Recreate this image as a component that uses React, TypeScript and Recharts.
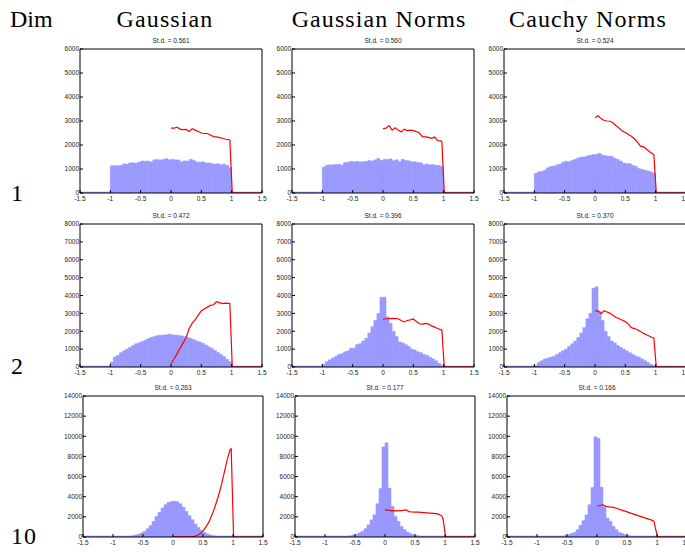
import React from 'react';
import { ComposedChart, Bar, Line, XAxis, YAxis } from 'recharts';

// histogram bins (left edges), width 0.05
const binEdges = [
  -1.5, -1.45, -1.4, -1.35, -1.3, -1.25, -1.2, -1.15, -1.1, -1.05,
  -1, -0.95, -0.9, -0.85, -0.8, -0.75, -0.7, -0.65, -0.6, -0.55,
  -0.5, -0.45, -0.4, -0.35, -0.3, -0.25, -0.2, -0.15, -0.1, -0.05,
  0, 0.05, 0.1, 0.15, 0.2, 0.25, 0.3, 0.35, 0.4, 0.45,
  0.5, 0.55, 0.6, 0.65, 0.7, 0.75, 0.8, 0.85, 0.9, 0.95,
  1, 1.05, 1.1, 1.15, 1.2, 1.25, 1.3, 1.35, 1.4, 1.45,
];

const histGauss1 = [
  0, 0, 0, 0, 0, 0, 0, 0, 0, 0,
  1130, 1140, 1130, 1150, 1210, 1200, 1250, 1260, 1240, 1280,
  1330, 1320, 1330, 1290, 1380, 1390, 1370, 1400, 1430, 1380,
  1400, 1380, 1370, 1300, 1340, 1330, 1400, 1360, 1290, 1280,
  1300, 1250, 1250, 1220, 1200, 1220, 1180, 1200, 1150, 1060,
  0, 0, 0, 0, 0, 0, 0, 0, 0, 0,
];
const histGaussNorm1 = [
  0, 0, 0, 0, 0, 0, 0, 0, 0, 0,
  1080, 1150, 1170, 1170, 1190, 1200, 1160, 1260, 1280, 1320,
  1300, 1310, 1290, 1300, 1310, 1350, 1330, 1380, 1440, 1350,
  1400, 1390, 1420, 1340, 1380, 1300, 1400, 1350, 1340, 1300,
  1300, 1270, 1260, 1180, 1200, 1170, 1180, 1150, 1150, 1100,
  0, 0, 0, 0, 0, 0, 0, 0, 0, 0,
];
const histCauchy1 = [
  0, 0, 0, 0, 0, 0, 0, 0, 0, 0,
  820, 880, 900, 950, 1050, 1100, 1120, 1170, 1200, 1280,
  1320, 1300, 1350, 1400, 1460, 1500, 1500, 1540, 1570, 1600,
  1600, 1650, 1580, 1550, 1530, 1530, 1450, 1400, 1330, 1250,
  1220, 1220, 1150, 1100, 1020, 980, 950, 920, 880, 830,
  0, 0, 0, 0, 0, 0, 0, 0, 0, 0,
];
const histGauss2 = [
  0, 0, 0, 0, 0, 0, 0, 0, 0, 0,
  280, 560, 650, 800, 900, 1000, 1100, 1200, 1300, 1350,
  1420, 1500, 1580, 1650, 1700, 1750, 1770, 1790, 1800, 1830,
  1800, 1780, 1760, 1740, 1700, 1650, 1600, 1530, 1450, 1400,
  1330, 1230, 1130, 1030, 920, 800, 700, 580, 430, 300,
  0, 0, 0, 0, 0, 0, 0, 0, 0, 0,
];
const histGaussNorm2 = [
  0, 0, 0, 0, 0, 0, 0, 0, 0, 0,
  150, 300, 400, 500, 600, 700, 750, 850, 900, 1050,
  1050, 1250, 1300, 1450, 1600, 1900, 2250, 2600, 3000, 3900,
  3900, 2800, 2450, 2000, 1700, 1400, 1350, 1250, 1150, 1000,
  950, 850, 800, 700, 650, 550, 450, 350, 200, 100,
  0, 0, 0, 0, 0, 0, 0, 0, 0, 0,
];
const histCauchy2 = [
  0, 0, 0, 0, 0, 0, 0, 0, 0, 0,
  100, 250, 350, 450, 500, 550, 600, 700, 800, 900,
  1000, 1150, 1300, 1450, 1650, 1900, 2200, 2700, 3000, 4400,
  4480, 3100, 2600, 2000, 1700, 1450, 1350, 1200, 1100, 1000,
  900, 800, 700, 600, 550, 450, 350, 250, 150, 80,
  0, 0, 0, 0, 0, 0, 0, 0, 0, 0,
];
const histGauss10 = [
  0, 0, 0, 0, 0, 0, 0, 0, 0, 0,
  0, 0, 0, 5, 30, 70, 130, 200, 260, 400,
  560, 820, 1120, 1550, 2040, 2440, 2870, 3200, 3430, 3520,
  3560, 3490, 3290, 2960, 2540, 2110, 1710, 1280, 950, 660,
  460, 300, 200, 130, 70, 30, 10, 0, 0, 0,
  0, 0, 0, 0, 0, 0, 0, 0, 0, 0,
];
const histGaussNorm10 = [
  0, 0, 0, 0, 0, 0, 0, 0, 0, 0,
  5, 5, 10, 15, 25, 40, 60, 90, 130, 200,
  260, 400, 560, 820, 1200, 1700, 2200, 3300, 4800, 8950,
  9350, 4850, 3050, 2050, 1550, 1050, 720, 490, 330, 230,
  160, 110, 80, 60, 40, 30, 20, 10, 5, 5,
  0, 0, 0, 0, 0, 0, 0, 0, 0, 0,
];
const histCauchy10 = [
  0, 0, 0, 0, 0, 0, 0, 0, 0, 0,
  5, 5, 10, 10, 15, 25, 35, 50, 80, 160,
  230, 330, 460, 720, 1150, 1610, 2200, 3200, 4900, 9950,
  9780, 4940, 3030, 1880, 1550, 1050, 720, 460, 330, 230,
  160, 100, 70, 50, 35, 25, 15, 10, 5, 5,
  0, 0, 0, 0, 0, 0, 0, 0, 0, 0,
];

// red curves, sampled at curveX
const curveX = [0, 0.05, 0.1, 0.15, 0.2, 0.25, 0.3, 0.35, 0.4, 0.45, 0.5, 0.55, 0.6, 0.65, 0.7, 0.75, 0.8, 0.85, 0.9, 0.95, 0.97, 1.01, 1.5];

const curveGauss1 = [2700, 2700, 2740, 2660, 2640, 2650, 2560, 2680, 2620, 2560, 2500, 2480, 2480, 2420, 2350, 2340, 2310, 2280, 2240, 2220, 2200, 0, 0];
const curveGaussNorm1 = [2680, 2700, 2810, 2620, 2720, 2620, 2540, 2660, 2600, 2620, 2600, 2560, 2500, 2350, 2340, 2320, 2280, 2330, 2180, 2170, 2150, 0, 0];
const curveCauchy1 = [3150, 3220, 3100, 3020, 3000, 2990, 2920, 2800, 2700, 2580, 2520, 2440, 2360, 2260, 2120, 1950, 1920, 1820, 1720, 1640, 1600, 0, 0];
const curveGauss2 = [180, 450, 750, 1050, 1350, 1650, 2150, 2450, 2650, 2900, 3150, 3250, 3350, 3450, 3480, 3650, 3600, 3550, 3570, 3560, 3550, 0, 0];
const curveGaussNorm2 = [2670, 2700, 2700, 2720, 2710, 2700, 2600, 2520, 2600, 2640, 2690, 2550, 2420, 2400, 2440, 2400, 2300, 2230, 2150, 2090, 2080, 0, 0];
const curveCauchy2 = [3120, 3150, 2980, 3150, 3080, 3000, 2880, 2770, 2700, 2620, 2540, 2400, 2200, 2150, 2080, 1980, 1880, 1800, 1720, 1640, 1620, 0, 0];
const curveGauss10 = [20, 20, 20, 20, 20, 20, 30, 60, 150, 330, 600, 1000, 1500, 2200, 3000, 3950, 5000, 6300, 7600, 8650, 8750, 0, 0];
const curveGaussNorm10 = [2700, 2660, 2620, 2610, 2600, 2620, 2640, 2700, 2520, 2480, 2470, 2460, 2440, 2420, 2400, 2380, 2350, 2320, 2250, 2050, 1700, 0, 0];
const curveCauchy10 = [3100, 3130, 3200, 3050, 3000, 2960, 2900, 2800, 2700, 2600, 2500, 2400, 2300, 2200, 2100, 2000, 1900, 1800, 1700, 1570, 950, 0, 0];

const xTicks = [-1.5, -1, -0.5, 0, 0.5, 1, 1.5];
const yTicksDim1 = [0, 1000, 2000, 3000, 4000, 5000, 6000];
const yTicksDim2 = [0, 1000, 2000, 3000, 4000, 5000, 6000, 7000, 8000];
const yTicksDim10 = [0, 2000, 4000, 6000, 8000, 10000, 12000, 14000];

const columnTitles = ['Gaussian', 'Gaussian Norms', 'Cauchy Norms'];
const rowTitles = ['1', '2', '10'];
const stdLabels = [
  ['St.d. = 0.561', 'St.d. = 0.560', 'St.d. = 0.524'],
  ['St.d. = 0.472', 'St.d. = 0.396', 'St.d. = 0.370'],
  ['St.d. = 0.263', 'St.d. = 0.177', 'St.d. = 0.166'],
];

const hists = [
  [histGauss1, histGaussNorm1, histCauchy1],
  [histGauss2, histGaussNorm2, histCauchy2],
  [histGauss10, histGaussNorm10, histCauchy10],
];
const curves = [
  [curveGauss1, curveGaussNorm1, curveCauchy1],
  [curveGauss2, curveGaussNorm2, curveCauchy2],
  [curveGauss10, curveGaussNorm10, curveCauchy10],
];
const rowTicks = [yTicksDim1, yTicksDim2, yTicksDim10];

const rowTop = [49, 224, 396];
const rowHeight = [144, 143, 141];
const rowLefts = [[80, 292, 504], [80, 292, 504], [83, 295, 507]];
const rowWidth = [182, 182, 180];

const LW = 26; // left axis width
const BH = 13; // bottom axis height
const MT = 6; // room above the box for the top tick label
const MR = 8; // room right of the box for the last x label
const tickFont = { fontSize: 6.5, fill: '#222', fontFamily: '"Liberation Sans", Arial, sans-serif' };

function Panel({ left, top, w, h, title, hist, curve, yTicks }: any) {
  const yMax = yTicks[yTicks.length - 1];
  const bars = binEdges.map((b, i) => ({ bin: b, count: hist[i] }));
  const line = curveX.map((x, i) => ({ x, y: curve[i] }));
  return (
    <>
      <div
        style={{
          position: 'absolute', left, top: top - 12, width: w, lineHeight: '8px',
          textAlign: 'center', fontSize: 6.5, color: '#222',
          fontFamily: '"Liberation Sans", Arial, sans-serif',
        }}
      >
        {title}
      </div>
      <div style={{ position: 'absolute', left: left - LW, top: top - 1 - MT }}>
        <ComposedChart
          width={LW + w + 1 + MR}
          height={MT + 1 + h + BH + 2}
          data={bars}
          margin={{ top: MT, right: MR, bottom: 2, left: 0 }}
          barCategoryGap={0}
          barGap={0}
        >
          <XAxis
            xAxisId="num" dataKey="x" type="number" domain={[-1.5, 1.5]} ticks={xTicks}
            interval={0} allowDataOverflow height={BH} tickSize={-3} tickMargin={6}
            tick={tickFont} axisLine={{ stroke: '#000' }} tickLine={{ stroke: '#000' }}
          />
          <XAxis xAxisId="bins" dataKey="bin" type="category" hide height={0} />
          <XAxis
            xAxisId="top" orientation="top" type="number" domain={[-1.5, 1.5]} ticks={xTicks}
            interval={0} height={1} tickSize={-3} tick={false}
            axisLine={{ stroke: '#000' }} tickLine={{ stroke: '#000' }}
          />
          <YAxis
            type="number" domain={[0, yMax]} ticks={yTicks} interval={0} allowDataOverflow
            width={LW} tickSize={-3} tickMargin={4} tick={tickFont}
            axisLine={{ stroke: '#000' }} tickLine={{ stroke: '#000' }}
          />
          <YAxis
            yAxisId="r" orientation="right" type="number" domain={[0, yMax]} ticks={yTicks}
            interval={0} width={1} tickSize={-3} tick={false}
            axisLine={{ stroke: '#000' }} tickLine={{ stroke: '#000' }}
          />
          <Bar
            xAxisId="bins" dataKey="count" fill="#9999ff" stroke="#9999ff" strokeWidth={0.6}
            minPointSize={1} isAnimationActive={false}
          />
          <Line
            xAxisId="num" data={line} dataKey="y" type="linear" stroke="#ff0000"
            strokeWidth={1.2} dot={false} activeDot={false} isAnimationActive={false}
          />
        </ComposedChart>
      </div>
    </>
  );
}

export default function App() {
  const serif = { fontFamily: '"Liberation Serif", "DejaVu Serif", serif', fontSize: 24, lineHeight: '24px', letterSpacing: 1.1, color: '#000' };
  const headerCenters = [165, 379, 588];
  const rowBaselines = [201, 374, 544];
  return (
    <div style={{ position: 'absolute', left: 0, top: 0, width: 685, height: 552, overflow: 'hidden', background: '#fff' }}>
      <div style={{ ...serif, letterSpacing: 0, position: 'absolute', left: 10, top: 7 }}>Dim</div>
      {columnTitles.map((t, c) => (
        <div key={t} style={{ ...serif, position: 'absolute', left: headerCenters[c] - 150, width: 300, top: 7, textAlign: 'center', whiteSpace: 'nowrap' }}>
          {t}
        </div>
      ))}
      {rowTitles.map((t, r) => (
        <div key={t} style={{ ...serif, position: 'absolute', left: 11, top: rowBaselines[r] - 20 }}>{t}</div>
      ))}
      {[0, 1, 2].map((r) =>
        [0, 1, 2].map((c) => (
          <Panel
            key={`${r}-${c}`}
            left={rowLefts[r][c]}
            top={rowTop[r]}
            w={rowWidth[r]}
            h={rowHeight[r]}
            title={stdLabels[r][c]}
            hist={hists[r][c]}
            curve={curves[r][c]}
            yTicks={rowTicks[r]}
          />
        ))
      )}
    </div>
  );
}
